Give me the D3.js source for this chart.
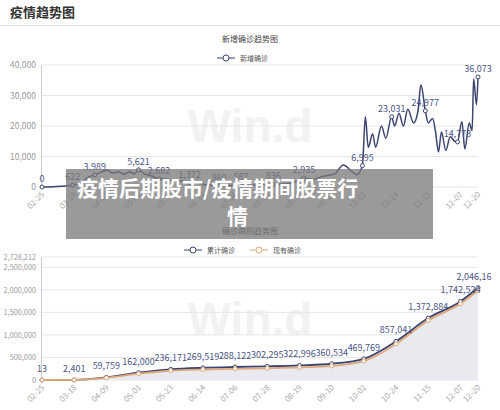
<!DOCTYPE html>
<html><head><meta charset="utf-8">
<script src="https://cdn.jsdelivr.net/npm/d3@7"></script>
<style>body{margin:0;background:#fff;font-family:"Noto Sans CJK SC","Noto Sans",sans-serif}</style>
</head><body><svg id="c" width="500" height="410"></svg>
<script>
// x axis tick labels (both charts)
var tickDates = ['02-25','03-18','04-09','05-01','05-23','06-14','07-06','07-28','08-19','09-10','10-02','10-24','11-15','12-07','12-20'];
// daily new cases: day offset from 02-25, value
var newDays = [0,8,16,21,26,32,36,40,45,48,52,56,60,63,66,70,75,80,85,90,95,101,106,110,115,121,128,136,142,150,158,165,172,179,185,192,200,206,212,215,219,221,223,226,228,232,235,239,241,244,247,250,254,257,259,262,264,267,269,271,273,276,279,282,284,287,289,292,294,295,297,298];
var newVals = [0,100,300,622,1200,3300,3989,4800,5600,4500,5000,4200,5000,4300,5621,4300,3600,2682,2600,2300,2000,1372,1500,900,600,360,500,587,600,700,836,1000,1500,2935,2500,3500,4300,7200,5000,4000,6995,23000,13000,17500,13000,20000,16000,23031,20000,24200,20000,25500,21000,25000,33500,24977,21000,22500,18000,11500,18000,12000,16500,15000,14773,21500,12500,21000,18500,35500,27000,36073];
var newLabels = [[0,'0'],[21,'622'],[36,'3,989'],[66,'5,621'],[80,'2,682'],[101,'1,372'],[121,'360'],[136,'587'],[158,'836'],[179,'2,935'],[219,'6,995'],[239,'23,031'],[262,'24,977'],[284,'14,773'],[298,'36,073']];
// cumulative / current confirmed at each tick date
var cumVals = [13,2401,59759,162000,236171,269519,288122,302295,322996,360534,469769,857041,1372884,1742524,2046162];
var curVals = [12,2300,50000,140000,205000,232000,248000,260000,278000,312000,420000,800000,1320000,1690000,1985000];
var cumLabels = ['13','2,401','59,759','162,000','236,171','269,519','288,122','302,295','322,996','360,534','469,769','857,041','1,372,884','1,742,524','2,046,16'];
</script>
<script>
var svg = d3.select('#c');
var tickDays = tickDates.map(function (d, i) { return i < 14 ? i * 22 : 298; });
var x = d3.scaleLinear().domain([0, 298]).range([42, 478]);
var grey = '#999', dark = '#3b4470';

svg.append('text').attr('x', 10).attr('y', 17).attr('font-size', 13).attr('font-weight', 'bold').attr('fill', '#333').text('疫情趋势图');
svg.append('line').attr('x1', 0).attr('x2', 500).attr('y1', 25.5).attr('y2', 25.5).attr('stroke', '#e4e4e4');

function frame(title, ty, y, ticks, fs, legend, ly) {
  svg.append('text').attr('x', 250).attr('y', ty).attr('text-anchor', 'middle').attr('font-size', 8).attr('fill', '#444').text(title);
  svg.append('text').attr('x', 250).attr('y', (y.range()[0] + y.range()[1]) / 2 + 16).attr('text-anchor', 'middle').attr('font-size', 46).attr('font-weight', 'bold').attr('font-family', 'Arial,sans-serif').attr('fill', '#f2f2f4').text('Win.d');
  var g = svg.append('g');
  ticks.forEach(function (t) {
    g.append('line').attr('x1', 42).attr('x2', 478).attr('y1', y(t)).attr('y2', y(t)).attr('stroke', '#e6e6e6');
    g.append('text').attr('x', 36).attr('y', y(t) + 3).attr('text-anchor', 'end').attr('font-size', fs).attr('fill', grey).text(d3.format(',')(t));
  });
  g.append('line').attr('x1', 41.5).attr('x2', 41.5).attr('y1', y.range()[1]).attr('y2', y.range()[0]).attr('stroke', '#ccc');
  tickDays.forEach(function (d, i) {
    var xx = x(d), yy = y.range()[0];
    g.append('text').attr('transform', 'translate(' + (xx + 3) + ',' + (yy + 8) + ') rotate(-45)').attr('text-anchor', 'end').attr('font-size', 8).attr('fill', '#aaa').text(tickDates[i]);
  });
  var lx = 250 - legend.length * 33;
  legend.forEach(function (l, i) {
    var cx = lx + i * 66;
    svg.append('line').attr('x1', cx).attr('x2', cx + 18).attr('y1', ly).attr('y2', ly).attr('stroke', l[1]);
    svg.append('circle').attr('cx', cx + 9).attr('cy', ly).attr('r', 3).attr('fill', '#fff').attr('stroke', l[1]);
    svg.append('text').attr('x', cx + 23).attr('y', ly + 3).attr('font-size', 7).attr('fill', '#555').text(l[0]);
  });
}

// top chart
var y1 = d3.scaleLinear().domain([0, 40000]).range([187, 65]);
frame('新增确诊趋势图', 42, y1, [0, 10000, 20000, 30000, 40000], 8.5, [['新增确诊', dark]], 58);
svg.append('path').datum(d3.zip(newDays, newVals)).attr('fill', 'none').attr('stroke', dark).attr('stroke-width', 1.5)
  .attr('d', d3.line().curve(d3.curveMonotoneX).x(function (d) { return x(d[0]); }).y(function (d) { return y1(d[1]); }));
newLabels.forEach(function (l) {
  var v = +l[1].replace(/,/g, '');
  svg.append('circle').attr('cx', x(l[0])).attr('cy', y1(v)).attr('r', 2).attr('fill', '#fff').attr('stroke', dark);
  svg.append('text').attr('x', x(l[0])).attr('y', y1(v) - 5).attr('text-anchor', 'middle').attr('font-size', 9).attr('fill', '#4a5585').text(l[1]);
});

// bottom chart
var y2 = d3.scaleLinear().domain([0, 2728212]).range([380, 257]);
frame('确诊病例趋势图', 234, y2, [0, 500000, 1000000, 1500000, 2000000, 2500000, 2728212], 7.3, [['累计确诊', dark], ['现有确诊', '#e0a878']], 250);
var cur = d3.curveMonotoneX;
svg.append('path').datum(d3.zip(tickDays, cumVals)).attr('fill', '#e9eaf0')
  .attr('d', d3.area().curve(cur).x(function (d) { return x(d[0]); }).y0(y2(0)).y1(function (d) { return y2(d[1]); }));
[[cumVals, dark], [curVals, '#e0a878']].forEach(function (s) {
  svg.append('path').datum(d3.zip(tickDays, s[0])).attr('fill', 'none').attr('stroke', s[1]).attr('stroke-width', 1.8)
    .attr('d', d3.line().curve(cur).x(function (d) { return x(d[0]); }).y(function (d) { return y2(d[1]); }));
  s[0].forEach(function (v, i) {
    svg.append('circle').attr('cx', x(tickDays[i])).attr('cy', y2(v)).attr('r', 2).attr('fill', '#fff').attr('stroke', s[1]);
  });
});
cumVals.forEach(function (v, i) {
  svg.append('text').attr('x', x(tickDays[i]) + (i == 14 ? -4 : 0)).attr('y', y2(v) - 8).attr('text-anchor', 'middle').attr('font-size', 9).attr('fill', '#4a5585').text(cumLabels[i]);
});

// overlay banner
svg.append('rect').attr('x', 66).attr('y', 169).attr('width', 367).attr('height', 70).attr('fill', 'rgba(120,120,120,0.75)');
svg.append('text').attr('x', 77).attr('y', 196).attr('font-size', 21).attr('font-weight', 'bold').attr('fill', '#fff').text('疫情后期股市/疫情期间股票行');
svg.append('text').attr('x', 227).attr('y', 224).attr('font-size', 21).attr('font-weight', 'bold').attr('fill', '#fff').text('情');
</script></body></html>
